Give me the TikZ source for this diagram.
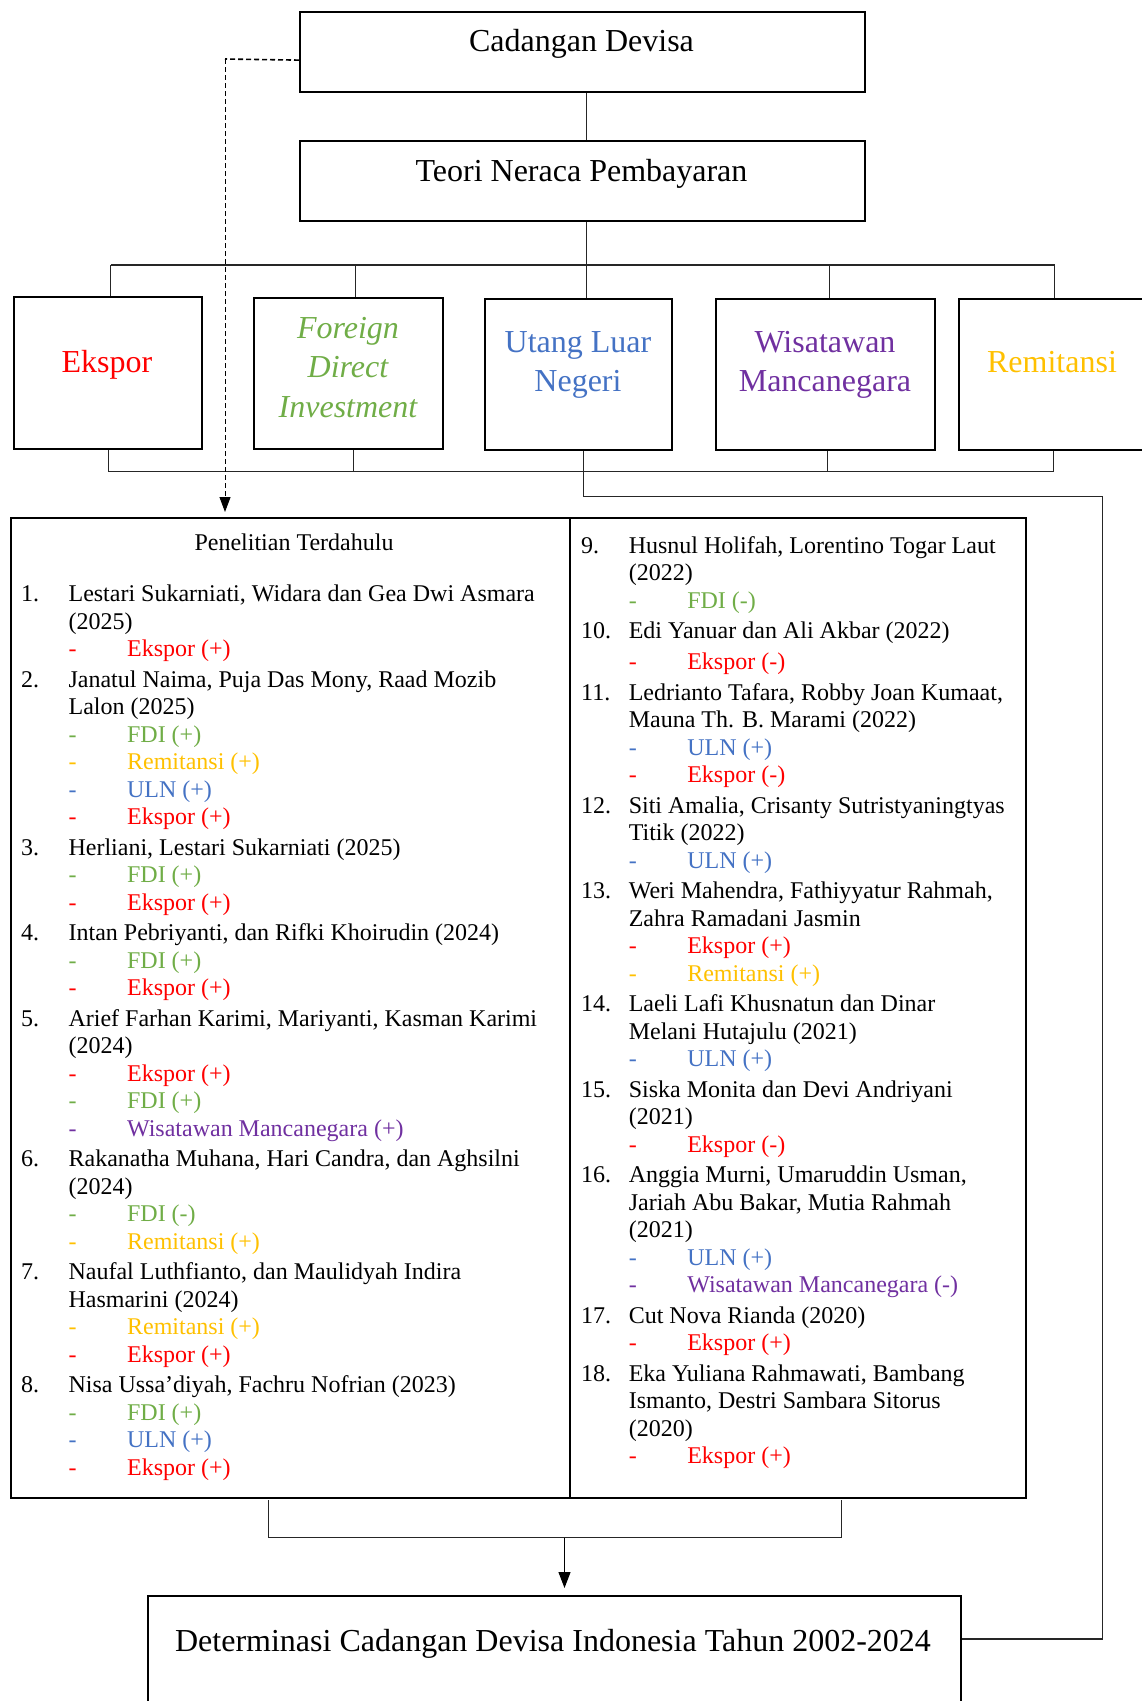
\documentclass[tikz,border=0pt]{standalone}
\usepackage{fontspec}
\setmainfont{Liberation Serif}
\usetikzlibrary{arrows.meta}
\definecolor{ekc}{HTML}{FF0000}
\definecolor{fdic}{HTML}{70AD47}
\definecolor{ulnc}{HTML}{4472C4}
\definecolor{wisc}{HTML}{7030A0}
\definecolor{remc}{HTML}{FFC000}
\newcommand\NumLine[2]{\makebox[47.6pt][l]{#1}#2}
\newcommand\ContLine[1]{\hspace*{47.6pt}#1}
\newcommand\SubLine[2]{\hspace*{47.6pt}\makebox[58.5pt][l]{\color{#1}-}{\color{#1}#2}}
\tikzset{
  box/.style={draw=black, line width=2.2pt, rectangle, inner sep=0pt, anchor=north west},
  ttl/.style={font=\fontsize{32}{38}\selectfont, inner sep=0pt, anchor=base},
  conn/.style={draw=black!85, line width=1.1pt},
  lst/.style={inner sep=0pt, anchor=base west, align=left},
}
\begin{document}
\begin{tikzpicture}[x=1pt,y=-1pt]
\useasboundingbox (0,0) rectangle (1142,1701);
% boxes
\node[box, minimum width=565pt, minimum height=80pt] (cd) at (299,11) {};
\node[box, minimum width=565pt, minimum height=80pt] (teori) at (299,140) {};
\node[box, minimum width=188pt, minimum height=152pt] (ek) at (13,296) {};
\node[box, minimum width=189pt, minimum height=151pt] (fdi) at (253,297) {};
\node[box, minimum width=187pt, minimum height=151pt] (uln) at (484,298) {};
\node[box, minimum width=219pt, minimum height=151pt] (wis) at (715,298) {};
\node[box, minimum width=188pt, minimum height=151pt] (rem) at (958,298) {};
\node[box, minimum width=559pt, minimum height=980pt] (pl) at (10,517) {};
\node[box, minimum width=456pt, minimum height=980pt] (pr) at (569,517) {};
\node[box, minimum width=813.5pt, minimum height=140pt] (det) at (146.5,1595) {};
% titles
\node[ttl] (tcd) at (581.5,51.5) {Cadangan Devisa};
\node[ttl] (tteori) at (581.5,181) {Teori Neraca Pembayaran};
\node[ttl, text=ekc] (tek) at (107,372) {Ekspor};
\node[ttl, text=fdic, font=\fontsize{32}{38}\selectfont\itshape] (tfdi1) at (348,338) {Foreign};
\node[ttl, text=fdic, font=\fontsize{32}{38}\selectfont\itshape] (tfdi2) at (348,377.7) {Direct};
\node[ttl, text=fdic, font=\fontsize{32}{38}\selectfont\itshape] (tfdi3) at (348,417.4) {Investment};
\node[ttl, text=ulnc] (tuln1) at (578,352.3) {Utang Luar};
\node[ttl, text=ulnc] (tuln2) at (578,391) {Negeri};
\node[ttl, text=wisc] (twis1) at (825,352.3) {Wisatawan};
\node[ttl, text=wisc] (twis2) at (825,391) {Mancanegara};
\node[ttl, text=remc] (trem) at (1052,372.3) {Remitansi};
\node[ttl] (tdet) at (553,1651.7) {Determinasi Cadangan Devisa Indonesia Tahun 2002-2024};
\node[ttl, font=\fontsize{24}{27.5}\selectfont] (tpt) at (294,550.7) {Penelitian Terdahulu};
% lists
\node[lst] (lst1) at (20.8,601.7) {\parbox[t]{540pt}{\fontsize{24}{27.5}\selectfont\raggedright
\NumLine{1.}{Lestari Sukarniati, Widara dan Gea Dwi Asmara}\\
\ContLine{(2025)}\\
\SubLine{ekc}{Ekspor (+)}\\[3pt]
\NumLine{2.}{Janatul Naima, Puja Das Mony, Raad Mozib}\\
\ContLine{Lalon (2025)}\\
\SubLine{fdic}{FDI (+)}\\
\SubLine{remc}{Remitansi (+)}\\
\SubLine{ulnc}{ULN (+)}\\
\SubLine{ekc}{Ekspor (+)}\\[3pt]
\NumLine{3.}{Herliani, Lestari Sukarniati (2025)}\\
\SubLine{fdic}{FDI (+)}\\
\SubLine{ekc}{Ekspor (+)}\\[3pt]
\NumLine{4.}{Intan Pebriyanti, dan Rifki Khoirudin (2024)}\\
\SubLine{fdic}{FDI (+)}\\
\SubLine{ekc}{Ekspor (+)}\\[3pt]
\NumLine{5.}{Arief Farhan Karimi, Mariyanti, Kasman Karimi}\\
\ContLine{(2024)}\\
\SubLine{ekc}{Ekspor (+)}\\
\SubLine{fdic}{FDI (+)}\\
\SubLine{wisc}{Wisatawan Mancanegara (+)}\\[3pt]
\NumLine{6.}{Rakanatha Muhana, Hari Candra, dan Aghsilni}\\
\ContLine{(2024)}\\
\SubLine{fdic}{FDI (-)}\\
\SubLine{remc}{Remitansi (+)}\\[3pt]
\NumLine{7.}{Naufal Luthfianto, dan Maulidyah Indira}\\
\ContLine{Hasmarini (2024)}\\
\SubLine{remc}{Remitansi (+)}\\
\SubLine{ekc}{Ekspor (+)}\\[3pt]
\NumLine{8.}{Nisa Ussa’diyah, Fachru Nofrian (2023)}\\
\SubLine{fdic}{FDI (+)}\\
\SubLine{ulnc}{ULN (+)}\\
\SubLine{ekc}{Ekspor (+)}}};
\node[lst] (lst2) at (581,553.3) {\parbox[t]{440pt}{\fontsize{24}{27.5}\selectfont\raggedright
\NumLine{9.}{Husnul Holifah, Lorentino Togar Laut}\\
\ContLine{(2022)}\\
\SubLine{fdic}{FDI (-)}\\[3pt]
\NumLine{10.}{Edi Yanuar dan Ali Akbar (2022)}\\[3.5pt]
\SubLine{ekc}{Ekspor (-)}\\[3pt]
\NumLine{11.}{Ledrianto Tafara, Robby Joan Kumaat,}\\
\ContLine{Mauna Th. B. Marami (2022)}\\
\SubLine{ulnc}{ULN (+)}\\
\SubLine{ekc}{Ekspor (-)}\\[3pt]
\NumLine{12.}{Siti Amalia, Crisanty Sutristyaningtyas}\\
\ContLine{Titik (2022)}\\
\SubLine{ulnc}{ULN (+)}\\[3pt]
\NumLine{13.}{Weri Mahendra, Fathiyyatur Rahmah,}\\
\ContLine{Zahra Ramadani Jasmin}\\
\SubLine{ekc}{Ekspor (+)}\\
\SubLine{remc}{Remitansi (+)}\\[3pt]
\NumLine{14.}{Laeli Lafi Khusnatun dan Dinar}\\
\ContLine{Melani Hutajulu (2021)}\\
\SubLine{ulnc}{ULN (+)}\\[3pt]
\NumLine{15.}{Siska Monita dan Devi Andriyani}\\
\ContLine{(2021)}\\
\SubLine{ekc}{Ekspor (-)}\\[3pt]
\NumLine{16.}{Anggia Murni, Umaruddin Usman,}\\
\ContLine{Jariah Abu Bakar, Mutia Rahmah}\\
\ContLine{(2021)}\\
\SubLine{ulnc}{ULN (+)}\\
\SubLine{wisc}{Wisatawan Mancanegara (-)}\\[3pt]
\NumLine{17.}{Cut Nova Rianda (2020)}\\
\SubLine{ekc}{Ekspor (+)}\\[3pt]
\NumLine{18.}{Eka Yuliana Rahmawati, Bambang}\\
\ContLine{Ismanto, Destri Sambara Sitorus}\\
\ContLine{(2020)}\\
\SubLine{ekc}{Ekspor (+)}}};
% coordinates
\coordinate (hl) at (110.7,265);
\coordinate (hr) at (1054.6,265);
\coordinate (bb) at (0,471.7);
\coordinate (r1) at (1102.7,496.7);
\coordinate (r2) at (1102.7,1639);
\coordinate (dcorner) at (225,59);
\coordinate (bl) at (268.8,1500);
\coordinate (br) at (841.2,1500);
\coordinate (bm) at (564.5,1537.7);
% top tree
\draw[conn] ([xshift=4pt]cd.south) -- ([xshift=4pt]teori.north);
\draw[conn] ([xshift=4pt]teori.south) -- ([xshift=4pt]teori.south |- uln.north);
\draw[conn] (hl) -- (hr);
\draw[conn] (hl) -- (hl |- ek.north);
\draw[conn] ([xshift=7pt]fdi.north) -- ([xshift=7pt]fdi.north |- hl);
\draw[conn] ([xshift=4pt]wis.north) -- ([xshift=4pt]wis.north |- hl);
\draw[conn] (hr) -- (hr |- rem.north);
% bottom bar
\draw[conn] (ek.south) -- (ek.south |- bb) -- (rem.south |- bb) -- (rem.south);
\draw[conn] ([xshift=5pt]fdi.south) -- ([xshift=5pt]fdi.south |- bb);
\draw[conn] ([xshift=2pt]wis.south) -- ([xshift=2pt]wis.south |- bb);
% ULN to result
\draw[conn] ([xshift=5pt]uln.south) |- (r1) -- (r2) -- (r2 -| det.east);
% dashed
\draw[black, line width=1.6pt, dash pattern=on 5pt off 3pt] ([yshift=-8pt]cd.west) -- (dcorner);
\draw[black, line width=0.9pt, dash pattern=on 5pt off 3pt, -{Triangle[width=11pt,length=15pt]}, shorten >=5pt] (dcorner) -- (dcorner |- pl.north);
% bracket below
\draw[conn] (bl) |- (bm) -| (br);
\draw[black, line width=1.1pt, -{Triangle[width=12pt,length=16pt]}, shorten >=7pt] (bm) -- (bm |- det.north);
\end{tikzpicture}
\end{document}
